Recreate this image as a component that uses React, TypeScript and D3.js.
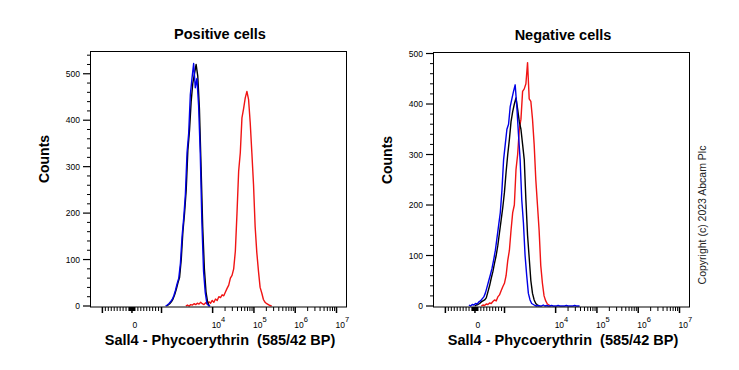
import React from 'react';
import * as d3 from 'd3';

// histogram bins: x is the display position on the biex axis (in "decades"), bins are STEP wide
const STEP = 0.04;

// Positive cells
const posBlueStart = 2.86;
const posBlue = [0, 2, 5, 9, 14, 22, 34, 48, 60, 92, 150, 190, 240, 330, 372, 455, 490, 522, 470, 490, 432, 330, 180, 75, 30, 6, 1, 0];
const posBlackStart = 2.88;
const posBlack = [0, 2, 5, 9, 15, 24, 36, 50, 62, 100, 160, 200, 250, 335, 378, 440, 480, 500, 520, 495, 425, 300, 170, 80, 30, 8, 0];
const posRedStart = 3.35;
const posRed = [0, 2, 0, 3, 2, 5, 3, 6, 4, 8, 5, 3, 7, 4, 9, 6, 12, 8, 15, 12, 20, 18, 24, 22, 30, 38, 45, 60, 66, 80, 118, 200, 290, 330, 405, 425, 448, 462, 445, 395, 330, 262, 170, 115, 75, 40, 28, 14, 8, 5, 3, 1, 0];

// Negative cells
const negBlueStart = 1.9;
const negBlue = [2, 0, 3, 2, 5, 4, 8, 10, 14, 18, 26, 38, 50, 62, 75, 92, 110, 135, 160, 185, 230, 290, 320, 350, 360, 395, 410, 425, 438, 395, 340, 290, 210, 165, 100, 60, 25, 12, 5, 3, 1, 0, 1, 0, 0, 2, 0, 1, 0, 0, 1, 0, 0, 0, 1, 0, 0, 0, 0, 1, 0, 0, 0, 0, 1, 0, 0, 0];
const negBlackStart = 2.04;
const negBlack = [0, 2, 3, 5, 8, 10, 12, 16, 28, 40, 55, 68, 85, 100, 120, 145, 170, 195, 225, 265, 300, 330, 365, 385, 400, 412, 390, 365, 350, 320, 290, 210, 140, 95, 50, 25, 12, 5, 2, 0];
const negRedStart = 2.2;
const negRed = [0, 2, 1, 4, 3, 6, 5, 9, 12, 10, 18, 22, 30, 38, 45, 60, 90, 110, 150, 185, 200, 270, 300, 350, 370, 425, 430, 440, 482, 410, 405, 370, 320, 250, 200, 150, 80, 45, 20, 10, 4, 2, 0];

// axis ticks (fluorescence values)
const xMajorTicks = [-1e3, 0, 1e3, 1e4, 1e5, 1e6, 1e7];
const xLabelTicks = [0, 1e4, 1e5, 1e6, 1e7];
const yMajorTicks = [0, 100, 200, 300, 400, 500];

const FONT = "'Liberation Sans', Arial, sans-serif";

// biexponential-ish display transform used by the cytometer software
function biex(v: number) {
  if (Math.abs(v) <= 1000) return 2.046 + 0.716 * v / 1000;
  if (v < 1e4) return 2.762 + 1.238 * Math.log10(v / 1000);
  return Math.log10(v);
}

const xMinorTicks: number[] = [];
for (let v = -900; v <= 900; v += 100) if (v !== 0) xMinorTicks.push(v);
for (let v = -90; v <= 90; v += 10) if (v !== 0) xMinorTicks.push(v);
for (let k = 4; k <= 6; k++) for (let m = 2; m <= 9; m++) xMinorTicks.push(m * Math.pow(10, k));

function toPoints(start: number, counts: number[]) {
  return counts.map((c, i) => [start + i * STEP, c] as [number, number]);
}

type Series = { start: number; counts: number[]; color: string };

function Panel(props: { left: number; top: number; height: number; yMax: number; title: string; series: Series[] }) {
  const { left, top, height, yMax, title, series } = props;
  const width = 256;

  const x = d3.scaleLinear().domain([1.03, 7.23]).range([0, width]);
  const y = d3.scaleLinear().domain([0, yMax]).range([height - 1, 0]);
  const line = d3.line<[number, number]>().x(d => x(d[0])).y(d => y(d[1]));

  const yMinor = d3.range(20, yMax, 20).filter(v => v % 100 !== 0);
  const cx = width / 2;

  return (
    <g transform={`translate(${left},${top})`}>
      <text x={cx + 2} y={-12} textAnchor="middle" fontFamily={FONT} fontWeight="bold" fontSize={14.5}>{title}</text>

      {series.map((s, i) => (
        <path key={i} d={line(toPoints(s.start, s.counts)) || ''} fill="none" stroke={s.color} strokeWidth={1.4} strokeLinejoin="round" />
      ))}

      <rect x={0.5} y={0.5} width={width} height={height - 0.5} fill="none" stroke="#000" strokeWidth={1} />

      {/* y axis */}
      {yMajorTicks.map(v => (
        <g key={'ym' + v}>
          <line x1={-7} x2={0} y1={y(v)} y2={y(v)} stroke="#000" strokeWidth={1.2} />
          <text x={-10} y={y(v) + 3} textAnchor="end" fontFamily={FONT} fontSize={8.5}>{v}</text>
        </g>
      ))}
      {yMinor.map(v => (
        <line key={'yn' + v} x1={-3} x2={0} y1={y(v)} y2={y(v)} stroke="#000" strokeWidth={1} />
      ))}
      <text transform={`translate(${-41},${108}) rotate(-90)`} textAnchor="middle" fontFamily={FONT} fontWeight="bold" fontSize={14}>Counts</text>

      {/* x axis */}
      {xMajorTicks.map(v => (
        <line key={'xm' + v} x1={x(biex(v))} x2={x(biex(v))} y1={height} y2={height + 6} stroke="#000" strokeWidth={1.5} />
      ))}
      {xMinorTicks.map(v => (
        <line key={'xn' + v} x1={x(biex(v))} x2={x(biex(v))} y1={height} y2={height + 4} stroke="#000" strokeWidth={1} />
      ))}
      {xLabelTicks.map(v => {
        const px = x(biex(v));
        if (v === 0) {
          return <text key={'xl' + v} x={px + 3} y={height + 21} textAnchor="middle" fontFamily={FONT} fontSize={8.5}>0</text>;
        }
        return (
          <text key={'xl' + v} x={px - 1} y={height + 21} fontFamily={FONT} fontSize={8.5}>
            10<tspan dy={-6} fontSize={7.5}>{Math.round(Math.log10(v))}</tspan>
          </text>
        );
      })}
      <text x={cx + 2} y={345 - top} textAnchor="middle" fontFamily={FONT} fontWeight="bold" fontSize={14.5}>
        {'Sall4 - Phycoerythrin\u00a0\u00a0(585/42 BP)'}
      </text>
    </g>
  );
}

export default function App() {
  return (
    <svg width={739} height={370} style={{ position: 'absolute', left: 0, top: 0, background: '#fff' }}>
      <rect width={739} height={370} fill="#fff" />
      <Panel
        left={90}
        top={51}
        height={256}
        yMax={549}
        title="Positive cells"
        series={[
          { start: posRedStart, counts: posRed, color: '#f01414' },
          { start: posBlackStart, counts: posBlack, color: '#000' },
          { start: posBlueStart, counts: posBlue, color: '#0000e6' },
        ]}
      />
      <Panel
        left={433}
        top={52}
        height={255}
        yMax={503}
        title="Negative cells"
        series={[
          { start: negRedStart, counts: negRed, color: '#f01414' },
          { start: negBlackStart, counts: negBlack, color: '#000' },
          { start: negBlueStart, counts: negBlue, color: '#0000e6' },
        ]}
      />
      <text transform="translate(706,215) rotate(-90)" textAnchor="middle" fontFamily={FONT} fontSize={10.5} fill="#222">
        Copyright (c) 2023 Abcam Plc
      </text>
    </svg>
  );
}
